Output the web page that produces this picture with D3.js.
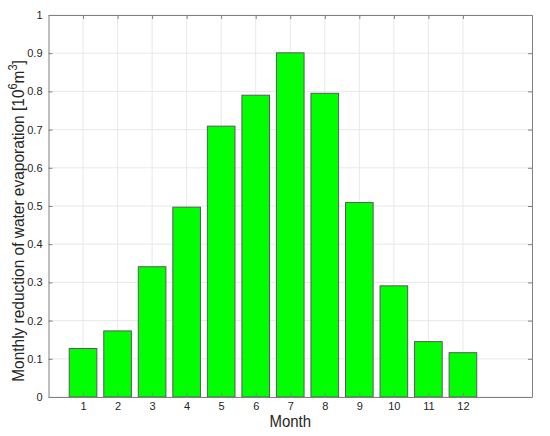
<!DOCTYPE html>
<html>
<head>
<meta charset="utf-8">
<script src="https://cdn.jsdelivr.net/npm/d3@7"></script>
<style>
  body { margin: 0; background: #fff; }
  text { font-family: "Liberation Sans", Arial, sans-serif; fill: #262626; }
</style>
</head>
<body>
<div id="chart"></div>
<script>
// data
var months = [1, 2, 3, 4, 5, 6, 7, 8, 9, 10, 11, 12];
var reduction = [0.127, 0.173, 0.341, 0.497, 0.709, 0.790, 0.901, 0.795, 0.509, 0.291, 0.145, 0.116];
var yTicks = [0, 0.1, 0.2, 0.3, 0.4, 0.5, 0.6, 0.7, 0.8, 0.9, 1];

var svgWidth = 550, svgHeight = 436;
var margin = { top: 15, right: 18, bottom: 39, left: 48.5 };
var width = svgWidth - margin.left - margin.right;
var height = svgHeight - margin.top - margin.bottom;

var svg = d3.select("#chart").append("svg")
  .attr("width", svgWidth)
  .attr("height", svgHeight);

var g = svg.append("g")
  .attr("transform", `translate(${margin.left}, ${margin.top})`);

var x = d3.scaleLinear().domain([0, 14]).range([0, width]);
var y = d3.scaleLinear().domain([0, 1]).range([height, 0]);

// grid
g.append("g").selectAll("line").data(months).enter().append("line")
  .attr("x1", d => x(d)).attr("x2", d => x(d))
  .attr("y1", 0).attr("y2", height)
  .attr("stroke", "#e8e8e8");
g.append("g").selectAll("line").data(yTicks).enter().append("line")
  .attr("x1", 0).attr("x2", width)
  .attr("y1", d => y(d)).attr("y2", d => y(d))
  .attr("stroke", "#e8e8e8");

// bars
var barW = x(0.8) - x(0);
g.append("g").selectAll("rect").data(months).enter().append("rect")
  .attr("x", d => x(d) - barW / 2)
  .attr("y", (d, i) => y(reduction[i]))
  .attr("width", barW)
  .attr("height", (d, i) => height - y(reduction[i]))
  .attr("fill", "#00ff00")
  .attr("stroke", "#5a5a5a")
  .attr("stroke-width", 1);

// axes, box with inward ticks on all sides
var axisColor = "#808080";
var bottomAxis = d3.axisBottom(x).tickValues(months).tickSizeInner(-4).tickSizeOuter(0).tickPadding(5);
var leftAxis = d3.axisLeft(y).tickValues(yTicks).tickSizeInner(-4).tickSizeOuter(0).tickPadding(6)
  .tickFormat(d3.format("~g"));
var topAxis = d3.axisTop(x).tickValues(months).tickSizeInner(-4).tickSizeOuter(0).tickFormat("");
var rightAxis = d3.axisRight(y).tickValues(yTicks).tickSizeInner(-4).tickSizeOuter(0).tickFormat("");

function styleAxis(sel) {
  sel.select(".domain").attr("stroke", axisColor);
  sel.selectAll(".tick line").attr("stroke", axisColor);
  sel.selectAll(".tick text").attr("fill", "#262626")
    .style("font-family", "'Liberation Sans', Arial, sans-serif")
    .style("font-size", "11px");
}

g.append("g").attr("transform", `translate(0, ${height})`).call(bottomAxis).call(styleAxis);
g.append("g").call(leftAxis).call(styleAxis);
g.append("g").call(topAxis).call(styleAxis);
g.append("g").attr("transform", `translate(${width}, 0)`).call(rightAxis).call(styleAxis);

// axis labels (font looks a bit condensed in the original)
g.append("text")
  .attr("transform", `translate(${width / 2}, ${height + 30}) scale(0.88, 1)`)
  .attr("text-anchor", "middle")
  .style("font-size", "17px")
  .text("Month");

var yLabel = g.append("text")
  .attr("transform", `translate(${-24.5}, ${height / 2 + 15}) rotate(-90) scale(0.91, 1)`)
  .attr("text-anchor", "middle")
  .style("font-size", "17px");
yLabel.append("tspan").text("Monthly reduction of water evaporation [10");
yLabel.append("tspan").attr("dy", -7).style("font-size", "12px").text("6");
yLabel.append("tspan").attr("dy", 7).text("m");
yLabel.append("tspan").attr("dy", -7).style("font-size", "12px").text("3");
yLabel.append("tspan").attr("dy", 7).text("]");
</script>
</body>
</html>
